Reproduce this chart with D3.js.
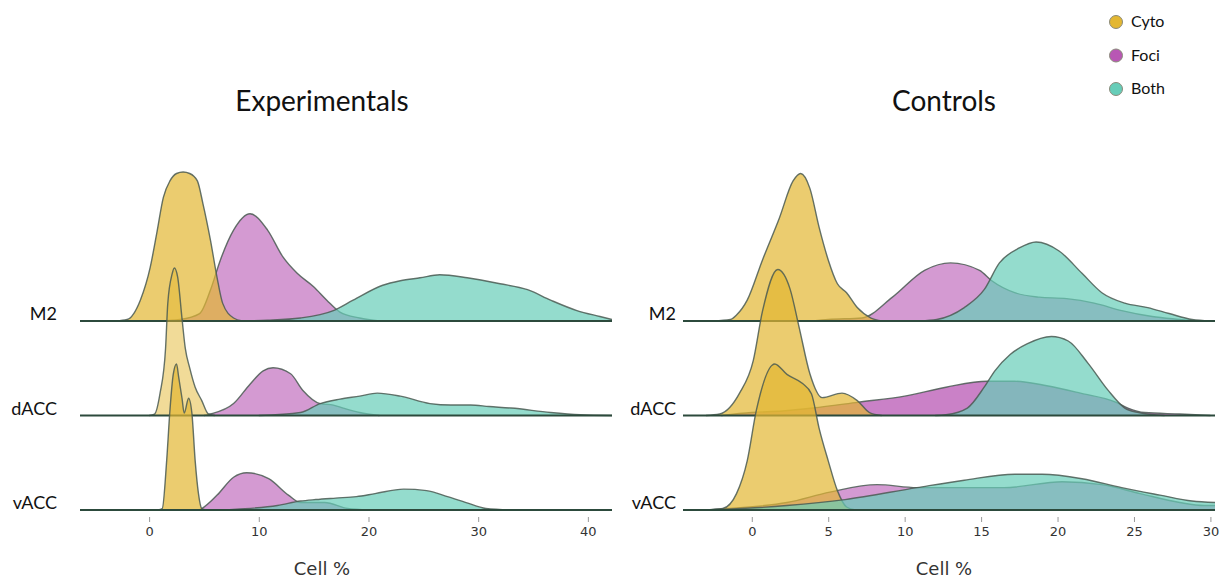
<!DOCTYPE html>
<html>
<head>
<meta charset="utf-8">
<script src="https://cdn.jsdelivr.net/npm/d3@7"></script>
<style>
  body { margin: 0; background: #fff; }
  .title, .row-label, .legend-text { font-family: "Century Gothic", "Futura", Lato, sans-serif; fill: #111; }
  .tick-label, .axis-title { font-family: "DejaVu Sans", Verdana, sans-serif; fill: #333; }
</style>
</head>
<body>
<script>
// panels, rows and groups
const panels = ["Experimentals", "Controls"];
const regions = ["M2", "dACC", "vACC"];
const groups = ["Cyto", "Foci", "Both"];
const expTicks = [0, 10, 20, 30, 40];
const ctlTicks = [0, 5, 10, 15, 20, 25, 30];

// density curves: [cell %, relative height]
const expM2Cyto = [[-3,0],[-2,1],[-0.8,14],[0.1,36],[0.7,59],[1.3,83],[1.9,94],[2.5,99],[3.1,100],[3.7,99],[4.4,94],[4.9,79],[5.6,54],[6.2,29],[6.7,12],[7.7,2],[8.5,0]];
const expM2Foci = [[1,0],[2.8,1],[4.6,5],[5.6,21],[6.5,41],[7.7,61],[9.2,72],[10.8,61],[12.2,43],[13.5,32],[15,23],[16.2,14],[17.4,6],[19.2,2],[21,0]];
const expM2Both = [[8,0],[10.8,0.5],[13.8,2],[16.8,7],[18.6,14],[21.3,24],[22.9,27],[24.7,29],[26.5,31],[29,29],[32,25],[34.5,21],[36.6,14],[39,7],[41.1,3],[42.2,1]];

const expDaccCyto = [[0,0],[0.5,1],[1,15],[1.5,45],[1.7,75],[2.1,95],[2.3,99],[2.6,93],[3,65],[3.3,45],[3.7,32],[4.2,19],[4.8,10],[5.4,1],[6,0]];
const expDaccFoci = [[5,0],[5.6,1],[7.7,8],[9.2,21],[10.4,30],[11.3,32],[12.9,28],[14,17],[15.6,8],[16.8,7],[17.7,5],[19.2,2],[21,0]];
const expDaccBoth = [[10,0],[13.8,2],[15.6,8],[17.4,11],[19.2,13],[20.8,15],[22.9,13],[25.6,8],[27.5,7],[29.3,7],[31,6],[33,5],[36.6,2],[39.3,0.5],[42.2,0]];

const expVaccCyto = [[0.8,0],[1.2,1],[1.6,33],[1.9,67],[2.2,91],[2.5,98],[2.7,89],[3,75],[3.2,65],[3.6,75],[3.9,65],[4.2,33],[4.5,11],[4.8,1],[5.2,0]];
const expVaccFoci = [[4.5,0],[4.8,1],[6.2,10],[7.7,22],[8.9,25],[10.9,21],[12.7,10],[13.8,5],[16,5],[18.1,1],[20,0]];
const expVaccBoth = [[7,0],[8,0.5],[11.7,3],[13.8,6],[15.2,7],[17,8],[18.9,9],[20.6,11],[23.2,14],[25.3,13],[27.2,9],[28.9,5],[30.7,1],[33,0]];

const ctlM2Cyto = [[-2.5,0],[-1.4,1],[-1,4],[-0.3,14],[0.7,41],[1.8,69],[2.7,94],[3.2,99],[3.8,89],[4.4,63],[5,41],[5.6,25],[6.2,19],[6.9,9],[7.8,2],[8.5,0]];
const ctlM2Foci = [[4,0],[5,1],[7.2,2],[9.2,16],[11.3,34],[13,39],[14.9,34],[15.7,27],[17.2,19],[18.8,16],[20.6,15],[22.4,12],[24.2,7],[26.2,3],[28,1],[29,0]];
const ctlM2Both = [[11,0],[12.1,1],[13.9,9],[15.2,21],[16.2,39],[17.5,49],[18.6,53],[20.1,47],[21.6,32],[22.9,19],[24.4,12],[25.9,9],[27.3,5],[28.8,1],[30,0]];

const ctlDaccCyto = [[-3,0],[-2.1,1],[-0.8,15],[0.1,37],[0.7,70],[1.7,98],[2.5,85],[3.1,59],[3.8,28],[4.6,12],[5.9,15],[6.9,10],[7.7,2],[8.5,0]];
const ctlDaccFoci = [[-2,0],[0,2],[2,3],[4,5],[7,9],[10,13],[12.7,19],[15.4,23],[17.2,23],[19.3,20],[21.5,15],[23.8,9],[24.6,5],[25.7,2],[28,1],[30,0]];
const ctlDaccBoth = [[12,0],[12.7,0.5],[14.1,5],[15.2,19],[15.9,30],[16.9,41],[18,48],[19.6,53],[20.7,50],[22,35],[23.3,17],[24.4,5],[25.3,2],[27,0]];

const ctlVaccCyto = [[-3,0],[-1.9,1],[-1,11],[-0.3,33],[0.3,67],[1.5,98],[2.3,91],[3.3,85],[3.9,78],[4.4,55],[5,33],[5.6,13],[6.2,2],[6.8,0]];
const ctlVaccFoci = [[-3,0],[-1.6,1],[2.3,5],[5.1,12],[8.2,17],[10.8,15],[13.9,15],[16.5,15],[20.3,19],[22.9,17],[25.4,11],[28,5],[29.6,3],[30.3,3]];
const ctlVaccBoth = [[-3,0],[-1.6,0.5],[2.3,3],[6.1,7],[10.8,15],[13.9,20],[17.2,24],[19,24],[21.6,21],[24.2,15],[26.7,10],[28.8,6],[30.3,5]];

const curves = {
  Experimentals: [[expM2Cyto, expM2Foci, expM2Both], [expDaccCyto, expDaccFoci, expDaccBoth], [expVaccCyto, expVaccFoci, expVaccBoth]],
  Controls: [[ctlM2Cyto, ctlM2Foci, ctlM2Both], [ctlDaccCyto, ctlDaccFoci, ctlDaccBoth], [ctlVaccCyto, ctlVaccFoci, ctlVaccBoth]]
};

const w = 1228, h = 579;
const svg = d3.select("body").append("svg")
              .attr("width", w)
              .attr("height", h);

const color = d3.scaleOrdinal()
                .domain(groups)
                .range(["#e3b732", "#b857b4", "#66cdb8"]);
const baseOpacity = { Cyto: 0.7, Foci: 0.6, Both: 0.7 };
// a couple of ridges come out paler / stronger in the original
const opacityFix = { "Experimentals-dACC-Cyto": 0.5, "Controls-dACC-Foci": 0.75 };
// foci sits underneath, cyto over it, both on top
const drawOrder = [1, 0, 2];

const layout = {
  Experimentals: { range: [80, 612], domain: [-6.3, 42.2], ticks: expTicks, labelX: 57, textX: 322 },
  Controls: { range: [683, 1215], domain: [-4.5, 30.3], ticks: ctlTicks, labelX: 676, textX: 944 }
};

const rowY = d3.scalePoint().domain(regions).range([321, 510]);
const hScale = d3.scaleLinear().domain([0, 100]).range([0, 149]);

panels.forEach(panel => {
  const L = layout[panel];
  const x = d3.scaleLinear().domain(L.domain).range(L.range);
  const g = svg.append("g");

  const clipId = "clip-" + panel;
  svg.append("clipPath").attr("id", clipId)
     .append("rect")
     .attr("x", L.range[0]).attr("y", 0)
     .attr("width", L.range[1] - L.range[0]).attr("height", h);

  g.append("text")
   .attr("class", "title")
   .attr("x", L.textX)
   .attr("y", 111)
   .attr("text-anchor", "middle")
   .style("font-size", "28px")
   .text(panel);

  regions.forEach((region, ri) => {
    const base = rowY(region);
    const row = g.append("g").attr("clip-path", "url(#" + clipId + ")");

    drawOrder.forEach(gi => {
      const grp = groups[gi];
      const data = curves[panel][ri][gi];
      const area = d3.area()
                     .x(d => x(d[0]))
                     .y0(base)
                     .y1(d => base - hScale(d[1]))
                     .curve(d3.curveMonotoneX);
      const line = d3.line()
                     .x(d => x(d[0]))
                     .y(d => base - hScale(d[1]))
                     .curve(d3.curveMonotoneX);
      const op = opacityFix[panel + "-" + region + "-" + grp] || baseOpacity[grp];
      row.append("path")
         .attr("d", area(data))
         .attr("fill", color(grp))
         .attr("fill-opacity", op);
      row.append("path")
         .attr("d", line(data))
         .attr("fill", "none")
         .attr("stroke", "#4a5a52")
         .attr("stroke-opacity", 0.85)
         .attr("stroke-width", 1.4);
    });

    g.append("line")
     .attr("x1", L.range[0]).attr("x2", L.range[1])
     .attr("y1", base).attr("y2", base)
     .attr("stroke", "#2c4a3c")
     .attr("stroke-width", 2.2);

    g.append("text")
     .attr("class", "row-label")
     .attr("x", L.labelX)
     .attr("y", base - 1)
     .attr("text-anchor", "end")
     .style("font-size", "18px")
     .text(region);
  });

  const axis = d3.axisBottom(x)
                 .tickValues(L.ticks)
                 .tickSize(5)
                 .tickPadding(5);
  const ax = g.append("g")
              .attr("transform", "translate(0,517)")
              .call(axis);
  ax.select(".domain").remove();
  ax.selectAll(".tick line").attr("stroke", "#999");
  ax.selectAll(".tick text")
    .attr("class", "tick-label")
    .style("font-size", "13px")
    .attr("fill", "#333");

  g.append("text")
   .attr("class", "axis-title")
   .attr("x", L.textX)
   .attr("y", 575)
   .attr("text-anchor", "middle")
   .style("font-size", "18px")
   .text("Cell %");
});

// legend
const legend = svg.append("g")
                  .selectAll("g")
                  .data(groups)
                  .enter()
                  .append("g")
                  .attr("transform", (d, i) => "translate(1116," + (22 + i * 33.5) + ")");

legend.append("circle")
      .attr("r", 6.5)
      .attr("fill", d => color(d))
      .attr("stroke", "#8a8a7a")
      .attr("stroke-width", 1);

legend.append("text")
      .attr("class", "legend-text")
      .attr("x", 15)
      .attr("y", 5)
      .style("font-size", "16px")
      .text(d => d);
</script>
</body>
</html>
